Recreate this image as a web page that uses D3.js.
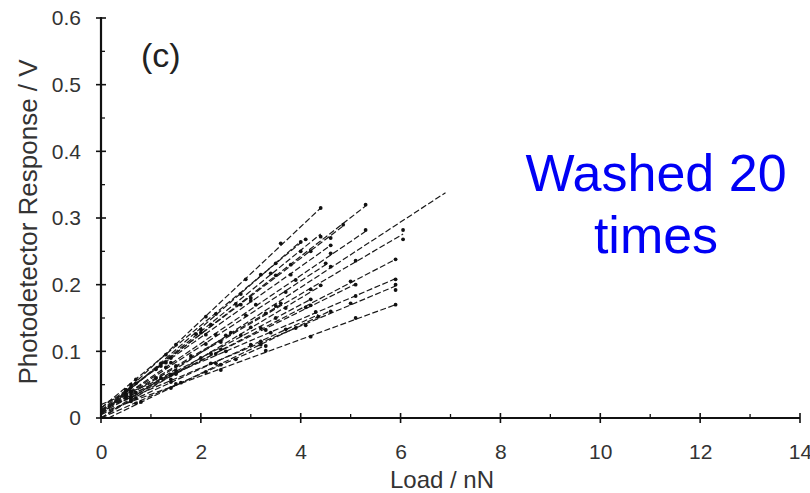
<!DOCTYPE html>
<html><head><meta charset="utf-8">
<script src="https://cdn.jsdelivr.net/npm/d3@7"></script>
<style>
html,body{margin:0;padding:0;background:#fff;}
svg{display:block;}
text{font-family:"Liberation Sans",Arial,Helvetica,sans-serif;}
</style></head>
<body>
<svg id="chart" width="810" height="493"></svg>
<script>
// ---- data ----
const xTicks = [0, 2, 4, 6, 8, 10, 12, 14];
const yTicks = [0, 0.1, 0.2, 0.3, 0.4, 0.5, 0.6];
const yTickLabels = ["0", "0.1", "0.2", "0.3", "0.4", "0.5", "0.6"];
const xMinor = [1, 3, 5, 7, 9, 11, 13];
const yMinor = [0.05, 0.15, 0.25, 0.35, 0.45, 0.55];
const xLabel = "Load / nN";
const yLabel = "Photodetector Response / V";
const panelLabel = "(c)";
const noteLines = ["Washed 20", "times"];

// per-series measured loads (nN) and responses (V)
const seriesLoads = [
  [0.6, 1.3, 2.1, 2.9, 3.6, 4.4],
  [0.7, 1.4, 2.2, 3.0, 3.8, 4.6, 5.3],
  [0.6, 1.5, 2.5, 3.5, 4.6],
  [0.5, 1.2, 2.0, 2.8, 3.5, 4.2, 4.85],
  [0.6, 1.4, 2.3, 3.1, 3.9, 4.6, 5.3],
  [0.5, 1.1, 1.9, 2.7, 3.4, 4.0, 4.4],
  [0.7, 1.5, 2.3, 3.2, 4.1],
  [0.6, 1.5, 2.4, 3.3, 4.2, 5.1, 6.05, 6.05],
  [0.6, 1.4, 2.3, 3.2, 4.1, 5.0, 5.9],
  [0.5, 1.3, 2.1, 2.9, 3.7, 4.5],
  [0.7, 1.5, 2.4, 3.3, 4.2, 5.1],
  [0.6, 1.4, 2.3, 3.2, 4.1, 5.0, 5.9, 5.9],
  [0.6, 1.5, 2.4, 3.3, 4.2, 5.1, 5.9],
  [0.5, 1.2, 2.0, 2.8, 3.5, 4.2],
  [0.6, 1.4, 2.2, 3.0, 3.7, 4.35],
  [0.5, 1.1, 1.8, 2.6, 3.6],
  [0.7, 1.4, 2.1, 2.7, 3.3],
  [0.6, 1.5, 2.5, 3.4, 4.3, 5.1, 5.9],
  [0.6, 1.2, 2.0, 2.8, 3.5, 4.0],
  [0.5, 1.3, 2.1, 3.0, 3.8, 4.6],
  [0.7, 1.4, 2.2, 3.0, 3.7, 4.4],
  [0.8, 1.6, 2.4, 3.2, 3.9, 4.6]
];
const seriesResp = [
  [0.050, 0.095, 0.152, 0.208, 0.262, 0.315],
  [0.052, 0.090, 0.140, 0.180, 0.230, 0.270, 0.320],
  [0.032, 0.071, 0.124, 0.168, 0.227],
  [0.042, 0.078, 0.128, 0.170, 0.214, 0.250, 0.290],
  [0.040, 0.083, 0.125, 0.170, 0.207, 0.247, 0.282],
  [0.040, 0.073, 0.126, 0.171, 0.217, 0.250, 0.272],
  [0.058, 0.110, 0.156, 0.215, 0.268],
  [0.036, 0.078, 0.114, 0.157, 0.193, 0.236, 0.268, 0.282],
  [0.031, 0.065, 0.096, 0.135, 0.166, 0.205, 0.238],
  [0.035, 0.076, 0.111, 0.154, 0.189, 0.232],
  [0.038, 0.066, 0.103, 0.132, 0.169, 0.200],
  [0.031, 0.058, 0.082, 0.115, 0.139, 0.172, 0.192, 0.200],
  [0.025, 0.051, 0.072, 0.101, 0.122, 0.150, 0.170],
  [0.030, 0.060, 0.090, 0.124, 0.150, 0.178],
  [0.027, 0.054, 0.082, 0.110, 0.133, 0.152],
  [0.035, 0.060, 0.093, 0.128, 0.172],
  [0.022, 0.045, 0.069, 0.088, 0.108],
  [0.040, 0.067, 0.100, 0.128, 0.159, 0.183, 0.208],
  [0.046, 0.082, 0.133, 0.186, 0.232, 0.264],
  [0.042, 0.083, 0.125, 0.176, 0.215, 0.259],
  [0.030, 0.065, 0.097, 0.136, 0.165, 0.199],
  [0.024, 0.053, 0.080, 0.110, 0.135, 0.160]
];
// fitted lines: [load0, resp0, load1, resp1]
const fitLines = [
  [0, 0.005, 4.4, 0.315],
  [0, 0.010, 5.3, 0.318],
  [0, 0.000, 6.9, 0.338],
  [0, 0.012, 4.85, 0.288],
  [0, 0.010, 5.3, 0.280],
  [0, 0.008, 4.4, 0.276],
  [0, 0.015, 4.1, 0.269],
  [0, 0.010, 6.05, 0.276],
  [0, 0.008, 5.9, 0.238],
  [0, 0.010, 4.5, 0.230],
  [0, 0.012, 5.1, 0.201],
  [0, 0.012, 5.9, 0.198],
  [0, 0.008, 5.9, 0.170],
  [0, 0.010, 4.2, 0.178],
  [0, 0.005, 4.35, 0.155],
  [0, 0.012, 3.6, 0.170],
  [0, 0.000, 3.3, 0.109],
  [0, 0.020, 5.9, 0.209],
  [0, 0.005, 4.0, 0.265],
  [0, 0.015, 4.6, 0.259],
  [0, 0.000, 4.4, 0.198],
  [0.15, 0.000, 4.6, 0.161]
];

// ---- drawing ----
const svg = d3.select("#chart");
const x = d3.scaleLinear().domain([0, 14]).range([101, 800]);
const y = d3.scaleLinear().domain([0, 0.6]).range([418, 18]);

const g = svg.append("g");

// fit lines
g.selectAll("line.fit").data(fitLines).enter().append("line")
  .attr("class", "fit")
  .attr("x1", d => x(d[0])).attr("y1", d => y(d[1]))
  .attr("x2", d => x(d[2])).attr("y2", d => y(d[3]))
  .attr("stroke", "#1a1a1a").attr("stroke-width", 1.2)
  .attr("stroke-dasharray", "6,2.5");

// points
const pts = [];
seriesLoads.forEach((arr, i) => arr.forEach((v, j) => pts.push([v, seriesResp[i][j]])));
g.selectAll("circle.pt").data(pts).enter().append("circle")
  .attr("class", "pt")
  .attr("cx", d => x(d[0])).attr("cy", d => y(d[1]))
  .attr("r", 1.9).attr("fill", "#111");

// axes via d3 (labels), domain lines drawn thick
const xAxis = d3.axisBottom(x).tickValues(xTicks).tickFormat(d3.format("d")).tickSize(0).tickPadding(26);
const xg = svg.append("g").attr("transform", `translate(0,${y(0)})`).call(xAxis);
xg.select(".domain").remove();
xg.selectAll("text").attr("font-size", 21).attr("fill", "#333");

const yAxis = d3.axisLeft(y).tickValues(yTicks).tickFormat((d, i) => yTickLabels[i]).tickSize(0).tickPadding(20);
const yg = svg.append("g").attr("transform", `translate(${x(0)},0)`).call(yAxis);
yg.select(".domain").remove();
yg.selectAll("text").attr("font-size", 21).attr("fill", "#333");

svg.append("line").attr("x1", x(0)).attr("x2", x(14)).attr("y1", y(0)).attr("y2", y(0))
  .attr("stroke", "#111").attr("stroke-width", 2.2);
svg.append("line").attr("x1", x(0)).attr("x2", x(0)).attr("y1", y(0) + 1).attr("y2", y(0.6) - 1)
  .attr("stroke", "#111").attr("stroke-width", 2.2);

// tick marks
svg.append("g").selectAll("line").data(xTicks).enter().append("line")
  .attr("x1", d => x(d)).attr("x2", d => x(d))
  .attr("y1", y(0) - 5).attr("y2", y(0) + 5)
  .attr("stroke", "#111").attr("stroke-width", 1.6);
svg.append("g").selectAll("line").data(xMinor).enter().append("line")
  .attr("x1", d => x(d)).attr("x2", d => x(d))
  .attr("y1", y(0) - 4).attr("y2", y(0))
  .attr("stroke", "#111").attr("stroke-width", 1.3);
svg.append("g").selectAll("line").data(yTicks).enter().append("line")
  .attr("x1", x(0) - 5).attr("x2", x(0) + 5)
  .attr("y1", d => y(d)).attr("y2", d => y(d))
  .attr("stroke", "#111").attr("stroke-width", 1.6);
svg.append("g").selectAll("line").data(yMinor).enter().append("line")
  .attr("x1", x(0)).attr("x2", x(0) + 4)
  .attr("y1", d => y(d)).attr("y2", d => y(d))
  .attr("stroke", "#111").attr("stroke-width", 1.3);

// axis titles
svg.append("text").attr("x", 442).attr("y", 488).attr("text-anchor", "middle")
  .attr("font-size", 24).attr("fill", "#333").text(xLabel);
svg.append("text").attr("transform", "translate(37,222) rotate(-90)")
  .attr("text-anchor", "middle").attr("font-size", 26).attr("fill", "#333").text(yLabel);

// panel label
svg.append("text").attr("x", 141).attr("y", 67).attr("font-size", 34).attr("fill", "#222").text(panelLabel);

// annotation
svg.append("g").selectAll("text").data(noteLines).enter().append("text")
  .attr("x", 656).attr("y", (d, i) => 191 + i * 62)
  .attr("text-anchor", "middle").attr("font-size", 52).attr("fill", "#0000f5")
  .text(d => d);
</script>
</body></html>
